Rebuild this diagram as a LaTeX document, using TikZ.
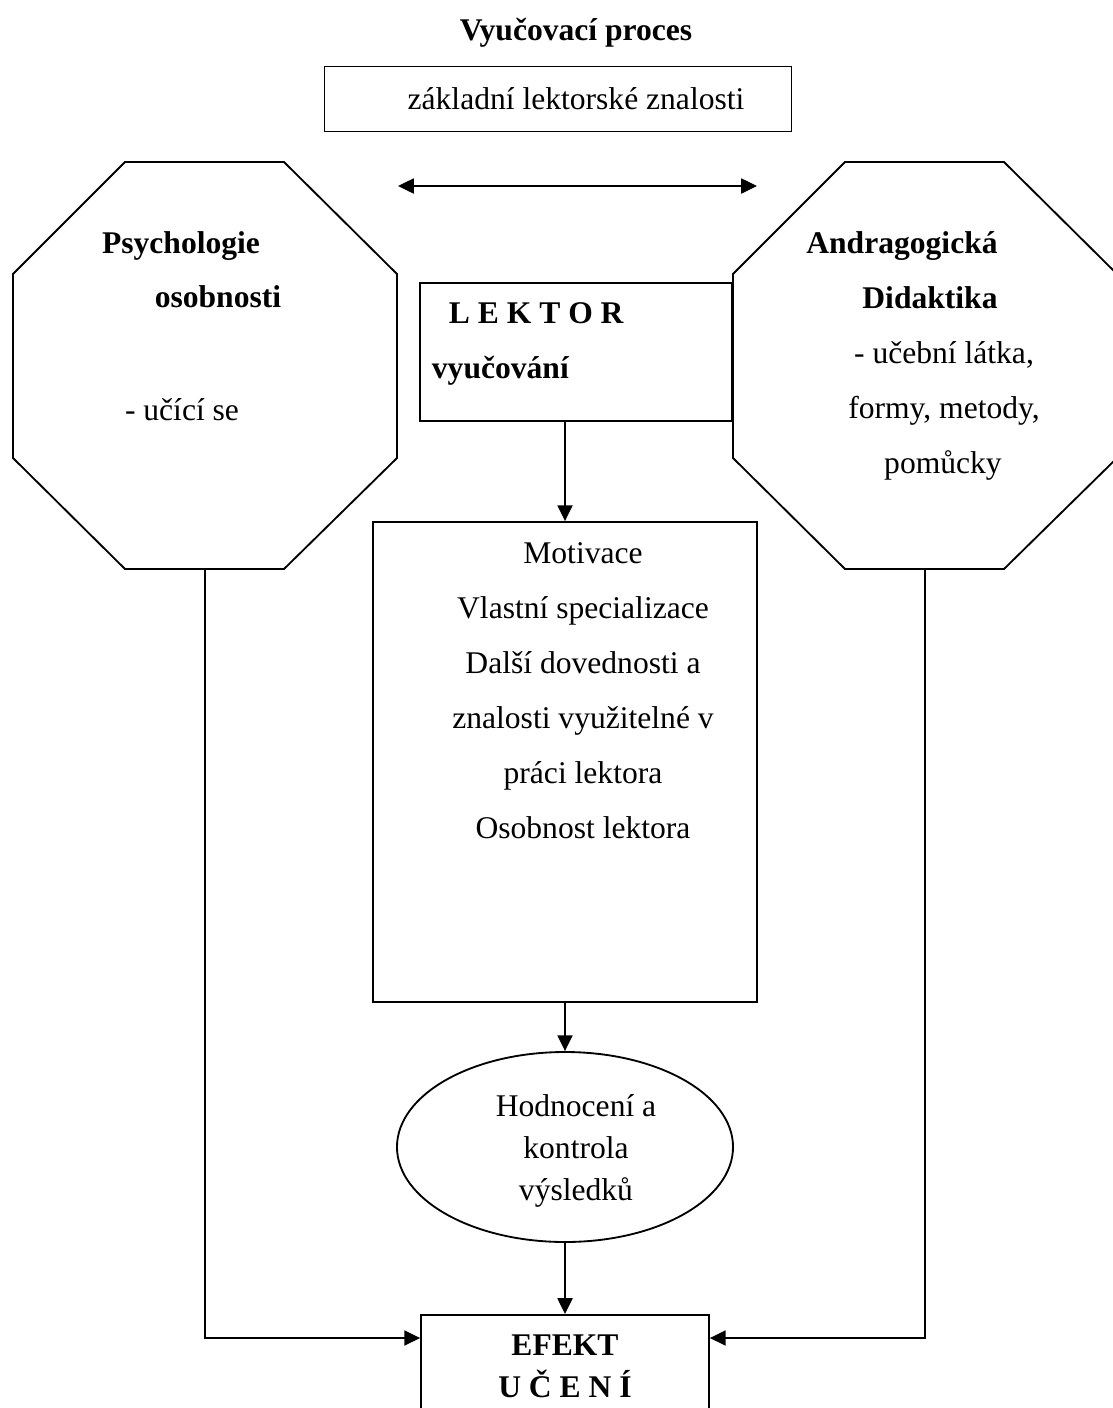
\documentclass[tikz,border=0pt]{standalone}
\usepackage{fontspec}
\setmainfont{Liberation Serif}
\usetikzlibrary{arrows.meta,shapes.geometric,calc}

\tikzset{
  arr/.style={-{Triangle[length=6pt,width=5.7pt]}},
  dblarr/.style={{Triangle[length=6pt,width=5.7pt]}-{Triangle[length=6pt,width=5.7pt]}},
  txt/.style={text height=10pt,text depth=2pt},
  bold/.style={txt,font=\fontsize{12}{14}\selectfont\bfseries},
  twoline/.style={align=center,font=\fontsize{12}{16}\selectfont#1},
  twoline/.default={}
}

\begin{document}
\begin{tikzpicture}[x=0.38pt,y=-0.38pt,line width=0.7pt,
  every node/.style={font=\fontsize{12}{14}\selectfont,inner sep=0pt}]
  \useasboundingbox (0,0) rectangle (1112,1408);

  % top
  \node[bold] (title) at (576,30) {Vyučovací proces};
  \node[draw,txt,minimum width=177.5pt,minimum height=24.7pt] (znal) at (558,99)
    {\hspace{13.7pt}základní lektorské znalosti};
  \coordinate (dl) at (398,186);
  \coordinate (dr) at (757,186);
  \draw[dblarr] (dl) -- (dr);

  % lektor box, partly hidden by the right octagon
  \node[draw,minimum width=118.6pt,minimum height=52.4pt] (lektor) at (576,352) {};
  \node[bold,anchor=west] (lektor1) at (448,313) {L E K T O R};
  \node[bold,anchor=west] (lektor2) at (431,368) {vyučování};

  % octagons
  \foreach \dx/\nm in {0/psy,720/did}{
    \draw[fill=white] (125+\dx,162) -- (284+\dx,162) -- (397+\dx,274) -- (397+\dx,458)
      -- (284+\dx,569) -- (125+\dx,569) -- (13+\dx,458) -- (13+\dx,274) -- cycle;
    \coordinate (\nm-bot) at (205+\dx,569);
  }
  \node[bold] (psy1) at (181,243) {Psychologie};
  \node[bold] (psy2) at (218,297) {osobnosti};
  \node[txt] (psy3) at (182,410) {- učící se};
  \node[bold] (did1) at (902,243) {Andragogická};
  \node[bold] (did2) at (930,298) {Didaktika};
  \node[txt] (did3) at (944,353) {- učební látka,};
  \node[txt] (did4) at (944,408) {formy, metody,};
  \node[txt] (did5) at (943,463) {pomůcky};

  % middle column
  \node[draw,minimum width=145.9pt,minimum height=182.4pt] (mot) at (565,762) {};
  \foreach \t [count=\i] in {Motivace,Vlastní specializace,Další dovednosti a,
      znalosti využitelné v,práci lektora,Osobnost lektora}
    \node[txt] (mot\i) at (583,553+55*\i-55) {\t};

  \node[draw,ellipse,minimum width=127.7pt,minimum height=72.2pt] (eval) at (565,1147) {};
  \node[twoline] (evaltxt) at (576,1151) {Hodnocení a\\kontrola\\výsledků};

  \node[draw,anchor=north,minimum width=109.4pt,minimum height=49.4pt] (efekt) at (565,1314) {};
  \node[twoline=\bfseries] (efekttxt) at (565,1366) {EFEKT\\U Č E N Í};

  % connectors
  \draw[arr] (lektor.south -| mot.north) -- (mot.north);
  \draw[arr] (mot.south) -- (eval.north);
  \draw[arr] (eval.south) -- (efekt.north);
  \coordinate (efL) at ($(efekt.north west)+(0,24)$);
  \coordinate (efR) at ($(efekt.north east)+(0,24)$);
  \draw[arr] (psy-bot) |- (efL);
  \draw[arr] (did-bot) |- (efR);
\end{tikzpicture}
\end{document}
